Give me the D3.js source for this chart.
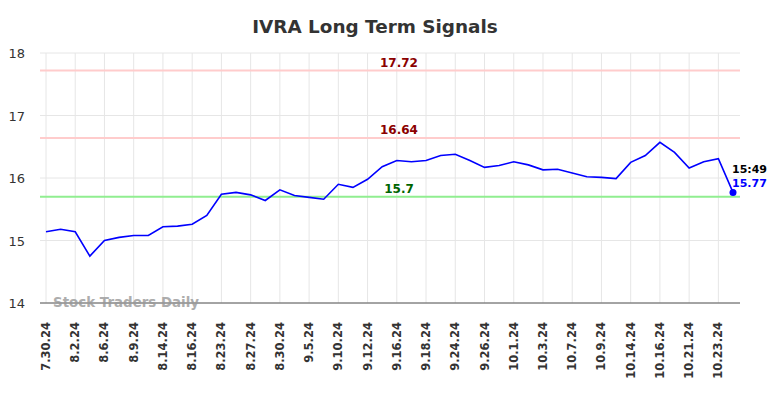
<!DOCTYPE html>
<html>
<head>
<meta charset="utf-8">
<script src="https://cdnjs.cloudflare.com/ajax/libs/d3/7.8.5/d3.min.js"></script>
<style>
  body { margin: 0; background: #fff; font-family: "DejaVu Sans", sans-serif; }
</style>
</head>
<body>
<div id="chart"></div>
<script>
// closing prices, one per trading day
var prices = [15.14, 15.18, 15.14, 14.75, 15.00, 15.05, 15.08, 15.08, 15.22, 15.23,
  15.26, 15.40, 15.74, 15.77, 15.73, 15.64, 15.81, 15.72, 15.69, 15.66,
  15.90, 15.85, 15.98, 16.18, 16.28, 16.26, 16.28, 16.36, 16.38, 16.28,
  16.17, 16.20, 16.26, 16.21, 16.13, 16.14, 16.08, 16.02, 16.01, 15.99,
  16.25, 16.36, 16.57, 16.41, 16.16, 16.26, 16.31, 15.77];

// labels shown on every other day
var tickLabels = ["7.30.24", "8.2.24", "8.6.24", "8.9.24", "8.14.24", "8.16.24", "8.23.24", "8.27.24",
  "8.30.24", "9.5.24", "9.10.24", "9.12.24", "9.16.24", "9.18.24", "9.24.24", "9.26.24",
  "10.1.24", "10.3.24", "10.7.24", "10.9.24", "10.14.24", "10.16.24", "10.21.24", "10.23.24"];

var yTicks = [14, 15, 16, 17, 18];

var resistance = [17.72, 16.64];
var support = [15.7];

var lastTime = "15:49";

var W = 784, H = 398;
var mLeft = 40, mRight = 740, mTop = 53, mBottom = 303;

var svg = d3.select("#chart").append("svg")
  .attr("width", W).attr("height", H);

var x = d3.scaleLinear().domain([0, prices.length - 1]).range([46, 733]);
var y = d3.scaleLinear().domain([14, 18]).range([mBottom, mTop]);

// title
svg.append("text")
  .attr("x", 375).attr("y", 33)
  .attr("text-anchor", "middle")
  .style("font-size", "18.4px").style("font-weight", "bold").style("fill", "#333")
  .text("IVRA Long Term Signals");

// grid lines
svg.append("g").selectAll("line").data(yTicks).enter().append("line")
  .attr("x1", mLeft).attr("x2", mRight)
  .attr("y1", d => y(d)).attr("y2", d => y(d))
  .style("stroke", "#e6e6e6").style("stroke-width", 1);

svg.append("g").selectAll("line").data(tickLabels).enter().append("line")
  .attr("x1", (d, i) => x(i * 2)).attr("x2", (d, i) => x(i * 2))
  .attr("y1", mTop).attr("y2", mBottom)
  .style("stroke", "#e6e6e6").style("stroke-width", 1);

// y tick labels
svg.append("g").selectAll("text").data(yTicks).enter().append("text")
  .attr("x", 25).attr("y", d => y(d) + 5)
  .attr("text-anchor", "end")
  .style("font-size", "13px").style("fill", "#333")
  .text(d => d);

// x axis line
svg.append("line")
  .attr("x1", mLeft).attr("x2", mRight)
  .attr("y1", mBottom).attr("y2", mBottom)
  .style("stroke", "#555").style("stroke-width", 1);

// x tick labels
svg.append("g").selectAll("text").data(tickLabels).enter().append("text")
  .attr("transform", (d, i) => "translate(" + (x(i * 2) + 4) + "," + 322 + ") rotate(-90)")
  .attr("text-anchor", "end")
  .style("font-size", "11.5px").style("font-weight", "bold").style("fill", "#333")
  .text(d => d);

// watermark
svg.append("text")
  .attr("x", 53).attr("y", 307)
  .style("font-size", "13.4px").style("font-weight", "bold").style("fill", "#999").style("opacity", 0.8)
  .text("Stock Traders Daily");

// resistance / support lines
resistance.forEach(function (v) {
  svg.append("line")
    .attr("x1", mLeft).attr("x2", mRight).attr("y1", y(v)).attr("y2", y(v))
    .style("stroke", "#ffcccc").style("stroke-width", 2);
  svg.append("text")
    .attr("x", 399).attr("y", y(v) - 4)
    .attr("text-anchor", "middle")
    .style("font-size", "12px").style("font-weight", "bold").style("fill", "#8b0000")
    .text(v);
});
support.forEach(function (v) {
  svg.append("line")
    .attr("x1", mLeft).attr("x2", mRight).attr("y1", y(v)).attr("y2", y(v))
    .style("stroke", "#90ee90").style("stroke-width", 2);
  svg.append("text")
    .attr("x", 399).attr("y", y(v) - 4)
    .attr("text-anchor", "middle")
    .style("font-size", "12px").style("font-weight", "bold").style("fill", "#006400")
    .text(v);
});

// price line
var line = d3.line().x((d, i) => x(i)).y(d => y(d));
svg.append("path")
  .datum(prices)
  .attr("d", line)
  .style("fill", "none").style("stroke", "#0000ff").style("stroke-width", 1.6);

// last point
var li = prices.length - 1;
svg.append("circle")
  .attr("cx", x(li)).attr("cy", y(prices[li])).attr("r", 3.5)
  .style("fill", "#0000ff");

svg.append("text")
  .attr("x", x(li) - 1).attr("y", y(prices[li]) - 19)
  .style("font-size", "11px").style("font-weight", "bold").style("fill", "#000")
  .text(lastTime);
svg.append("text")
  .attr("x", x(li) - 1).attr("y", y(prices[li]) - 5)
  .style("font-size", "11px").style("font-weight", "bold").style("fill", "#0000ff")
  .text(prices[li]);
</script>
</body>
</html>
